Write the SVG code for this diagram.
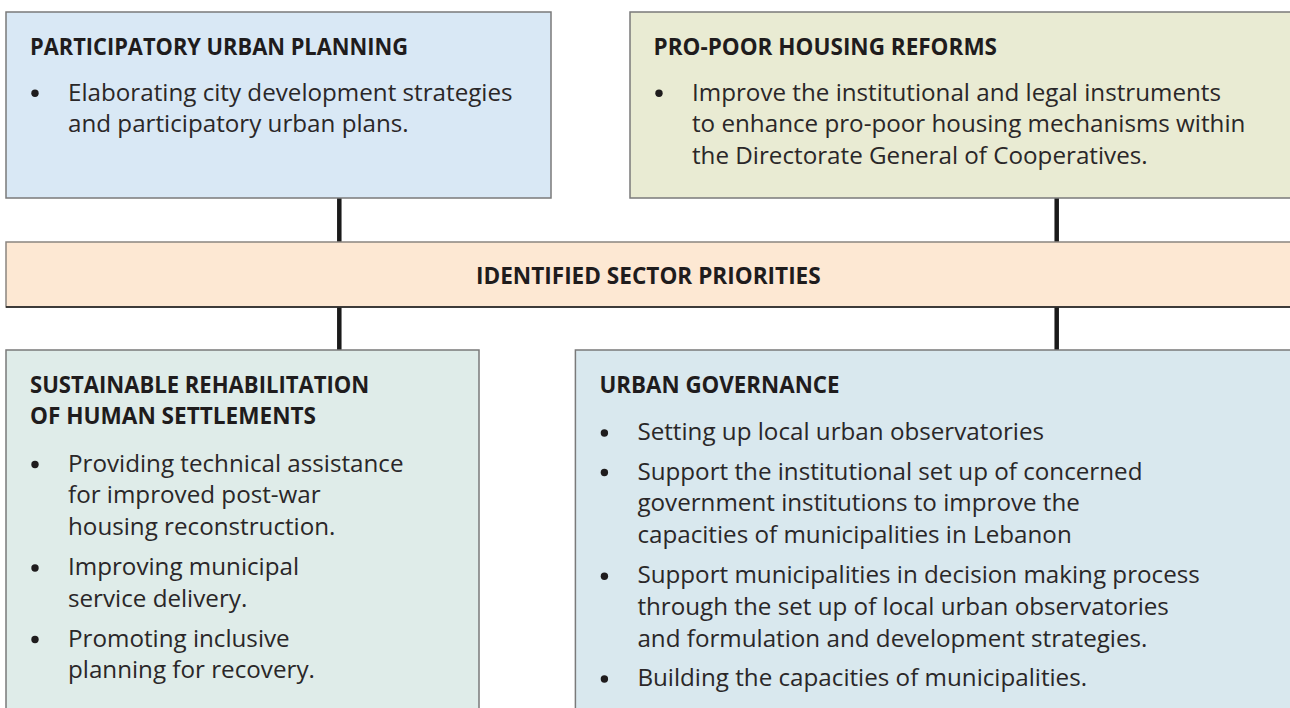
<svg xmlns="http://www.w3.org/2000/svg" width="1290" height="708" viewBox="0 0 1290 708">
<style>
.box{stroke:#7a7a7a;stroke-width:1.5}
.t{font-family:"Open Sans","Noto Sans",sans-serif;font-weight:700;font-size:24px;fill:#1f1c1d}
.b{font-family:"Open Sans","Noto Sans",sans-serif;font-size:24.2px;fill:#2a2728}
.dot{fill:#1f1c1d}
.con{stroke:#1a1a1a;stroke-width:4.5;fill:none}
</style>
<rect width="1290" height="708" fill="#ffffff"/>
<g id="connectors">
<line class="con" x1="339.3" y1="198" x2="339.3" y2="242"/>
<line class="con" x1="1056.7" y1="198" x2="1056.7" y2="242"/>
<line class="con" x1="339.3" y1="307" x2="339.3" y2="350"/>
<line class="con" x1="1056.7" y1="307" x2="1056.7" y2="350"/>
</g>
<g id="participatory-urban-planning">
<rect class="box" x="6" y="12" width="545" height="186" fill="#d9e8f5"/>
<text class="t" x="30" y="55" textLength="378" lengthAdjust="spacingAndGlyphs">PARTICIPATORY URBAN PLANNING</text>
<circle class="dot" cx="35" cy="93.3" r="3.7"/>
<text class="b" x="68" y="100.5">Elaborating city development strategies</text>
<text class="b" x="68" y="132">and participatory urban plans.</text>
</g>
<g id="pro-poor-housing-reforms">
<rect class="box" x="630" y="12" width="670" height="186" fill="#e9ebd3"/>
<text class="t" x="653.5" y="55" textLength="343.5" lengthAdjust="spacingAndGlyphs">PRO-POOR HOUSING REFORMS</text>
<circle class="dot" cx="659" cy="93.3" r="3.7"/>
<text class="b" x="692" y="100.5">Improve the institutional and legal instruments</text>
<text class="b" x="692" y="132.3">to enhance pro-poor housing mechanisms within</text>
<text class="b" x="692" y="164">the Directorate General of Cooperatives.</text>
</g>
<g id="identified-sector-priorities">
<rect x="6" y="242" width="1300" height="65" fill="#fde8d3" stroke="#8a8580" stroke-width="1.5"/>
<line x1="6" y1="307" x2="1290" y2="307" stroke="#1a1a1a" stroke-width="1.5"/>
<text class="t" x="476" y="284.3" textLength="344.7" lengthAdjust="spacingAndGlyphs">IDENTIFIED SECTOR PRIORITIES</text>
</g>
<g id="sustainable-rehabilitation">
<rect class="box" x="6" y="350" width="473" height="380" fill="#dfece9"/>
<text class="t" x="30" y="392.7" textLength="339.3" lengthAdjust="spacingAndGlyphs">SUSTAINABLE REHABILITATION</text>
<text class="t" x="30" y="424" textLength="286" lengthAdjust="spacingAndGlyphs">OF HUMAN SETTLEMENTS</text>
<circle class="dot" cx="35" cy="464.5" r="3.7"/>
<text class="b" x="68" y="471.7">Providing technical assistance</text>
<text class="b" x="68" y="503.3">for improved post-war</text>
<text class="b" x="68" y="535">housing reconstruction.</text>
<circle class="dot" cx="35" cy="568" r="3.7"/>
<text class="b" x="68" y="575">Improving municipal</text>
<text class="b" x="68" y="606.7">service delivery.</text>
<circle class="dot" cx="35" cy="639.5" r="3.7"/>
<text class="b" x="68" y="646.7">Promoting inclusive</text>
<text class="b" x="68" y="678.3">planning for recovery.</text>
</g>
<g id="urban-governance">
<rect class="box" x="575.4" y="350" width="730" height="380" fill="#d9e8ee"/>
<text class="t" x="599.5" y="392.5" textLength="240" lengthAdjust="spacingAndGlyphs">URBAN GOVERNANCE</text>
<circle class="dot" cx="604.4" cy="433" r="3.7"/>
<text class="b" x="637.4" y="440">Setting up local urban observatories</text>
<circle class="dot" cx="604.4" cy="472.5" r="3.7"/>
<text class="b" x="637.4" y="479.5">Support the institutional set up of concerned</text>
<text class="b" x="637.4" y="511">government institutions to improve the</text>
<text class="b" x="637.4" y="543">capacities of municipalities in Lebanon</text>
<circle class="dot" cx="604.4" cy="576.3" r="3.7"/>
<text class="b" x="637.4" y="583.3">Support municipalities in decision making process</text>
<text class="b" x="637.4" y="615">through the set up of local urban observatories</text>
<text class="b" x="637.4" y="647">and formulation and development strategies.</text>
<circle class="dot" cx="604.4" cy="679" r="3.7"/>
<text class="b" x="637.4" y="686">Building the capacities of municipalities.</text>
</g>
</svg>
